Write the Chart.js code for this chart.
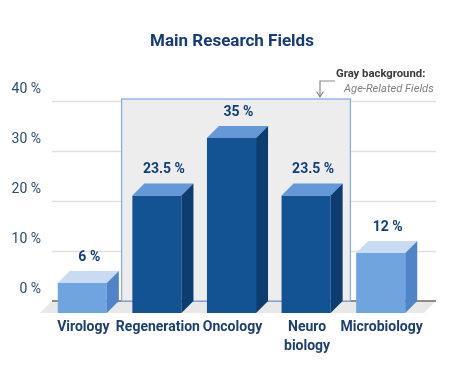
<!DOCTYPE html>
<html><head><meta charset="utf-8">
<script src="https://cdn.jsdelivr.net/npm/chart.js@4"></script>
<style>html,body{margin:0;padding:0;background:#fff}#wrap{width:457px;height:368px;position:relative}</style>
</head><body><div id="wrap"><canvas id="c" width="457" height="368"></canvas></div>
<script>
const categories = ['Virology', 'Regeneration', 'Oncology', ['Neuro', 'biology'], 'Microbiology'];
const values = [6, 23.5, 35, 23.5, 12];
const valueLabels = ['6 %', '23.5 %', '35 %', '23.5 %', '12 %'];
const ageRelated = [false, true, true, true, false];
const yTicks = [0, 10, 20, 30, 40];
const titleText = 'Main Research Fields';
const noteTitle = 'Gray background:';
const noteText = 'Age-Related Fields';

const D = 12; // 3D depth
const light = {front: '#6fa4de', top: '#c8dbf3', side: '#4f85c8'};
const dark = {front: '#135293', top: '#6598d6', side: '#0d3c70'};
const pal = i => ageRelated[i] ? dark : light;

const deco = {
  id: 'deco',
  beforeDatasetsDraw(chart) {
    const ctx = chart.ctx, y = chart.scales.y, x = chart.scales.x;
    const gl = 52, gr = 436;
    ctx.save();
    yTicks.forEach(v => {
      if (v === 0) return;
      const py = Math.round(y.getPixelForValue(v)) + 0.5;
      ctx.strokeStyle = '#e0e0e0'; ctx.lineWidth = 1.4;
      ctx.beginPath(); ctx.moveTo(gl, py); ctx.lineTo(gr, py); ctx.stroke();
    });
    const by = y.getPixelForValue(0);
    ctx.fillStyle = '#e8e8e8';
    ctx.beginPath();
    ctx.moveTo(gl, by); ctx.lineTo(gr, by); ctx.lineTo(gr - D, by + D); ctx.lineTo(gl - D, by + D);
    ctx.closePath(); ctx.fill();
    ctx.strokeStyle = '#6a6a6a'; ctx.lineWidth = 1.5;
    ctx.beginPath(); ctx.moveTo(gl, by); ctx.lineTo(gr, by); ctx.stroke();
    const first = ageRelated.indexOf(true), last = ageRelated.lastIndexOf(true);
    const bl = x.getPixelForValue(first - 0.5) - 10;
    const br = x.getPixelForValue(last + 0.5) - 5;
    const bt = y.getPixelForValue(40) - 2;
    ctx.fillStyle = '#ededed';
    ctx.fillRect(bl, bt, br - bl, by - bt);
    ctx.strokeStyle = '#86aee6'; ctx.lineWidth = 1.3;
    ctx.strokeRect(bl, bt, br - bl, by - bt);
    ctx.restore();
    ctx.save();
    ctx.translate(-D, D);
  },
  afterDatasetsDraw(chart) {
    const ctx = chart.ctx;
    const meta = chart.getDatasetMeta(0);
    meta.data.forEach((bar, i) => {
      const p = bar.getProps(['x', 'y', 'base', 'width'], true);
      const l = p.x - p.width / 2, r = p.x + p.width / 2;
      const c = pal(i);
      ctx.fillStyle = c.top;
      ctx.beginPath();
      ctx.moveTo(l, p.y); ctx.lineTo(r, p.y); ctx.lineTo(r + D, p.y - D); ctx.lineTo(l + D, p.y - D);
      ctx.closePath(); ctx.fill();
      ctx.fillStyle = c.side;
      ctx.beginPath();
      ctx.moveTo(r, p.y); ctx.lineTo(r + D, p.y - D); ctx.lineTo(r + D, p.base - D); ctx.lineTo(r, p.base);
      ctx.closePath(); ctx.fill();
    });
    ctx.restore();
    ctx.save();
    ctx.fillStyle = '#0e3f7c';
    ctx.font = 'bold 14px Roboto';
    ctx.textAlign = 'center'; ctx.textBaseline = 'middle';
    meta.data.forEach((bar, i) => {
      const p = bar.getProps(['x', 'y'], true);
      ctx.fillText(valueLabels[i], p.x - D + 7, p.y - 14);
    });
    ctx.fillStyle = '#153b7d';
    ctx.font = 'bold 17px Roboto';
    ctx.fillText(titleText, 232, 42);
    ctx.textAlign = 'left';
    ctx.fillStyle = '#3a3a3a';
    ctx.font = 'bold 11.3px Roboto';
    ctx.fillText(noteTitle, 336, 74);
    ctx.fillStyle = '#808080';
    ctx.font = 'italic 11.2px Roboto';
    ctx.fillText(noteText, 344, 89);
    ctx.strokeStyle = '#8a8a8a'; ctx.lineWidth = 1.2;
    ctx.beginPath();
    ctx.moveTo(335, 81); ctx.lineTo(320, 81); ctx.lineTo(320, 97);
    ctx.moveTo(316.5, 91.5); ctx.lineTo(320, 97); ctx.lineTo(323.5, 91.5);
    ctx.stroke();
    ctx.restore();
  }
};

new Chart(document.getElementById('c'), {
  type: 'bar',
  data: {
    labels: categories,
    datasets: [{
      data: values,
      backgroundColor: values.map((v, i) => pal(i).front),
      borderWidth: 0,
      barPercentage: 0.658,
      categoryPercentage: 1,
      clip: false
    }]
  },
  options: {
    responsive: false,
    animation: false,
    devicePixelRatio: 1,
    layout: {padding: {top: 101, right: 27, left: 0, bottom: 0}},
    plugins: {legend: {display: false}, tooltip: {enabled: false}, title: {display: false}},
    scales: {
      x: {
        grid: {display: false, drawTicks: false},
        border: {display: false},
        ticks: {
          color: '#1d3f70', font: {family: 'Roboto', size: 14, weight: 'bold', lineHeight: 1.35},
          padding: 17, labelOffset: -11, maxRotation: 0, autoSkip: false
        },
        afterFit: s => { s.height = 67; }
      },
      y: {
        min: 0, max: 40,
        afterBuildTicks: s => { s.ticks = yTicks.map(v => ({value: v})); },
        grid: {display: false, drawTicks: false},
        border: {display: false},
        ticks: {
          color: '#2c4a72', font: {family: 'Roboto', size: 14},
          padding: 16, labelOffset: -12,
          callback: v => v + ' %'
        },
        afterFit: s => { s.width = 57; }
      }
    }
  },
  plugins: [deco]
});
</script></body></html>
